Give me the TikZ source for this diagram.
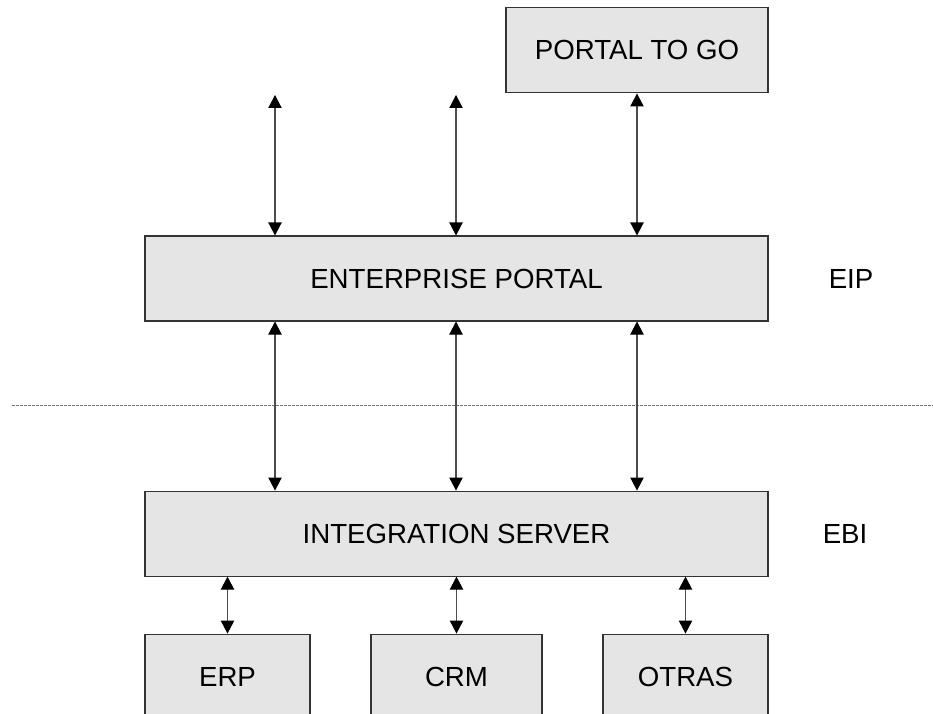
\documentclass[tikz,border=0pt]{standalone}
\usepackage{fontspec}
\setmainfont{Liberation Sans}
\usetikzlibrary{arrows.meta, positioning}

\begin{document}
\begin{tikzpicture}[
    every node/.style={font=\fontsize{23.6}{28}\selectfont},
    layerbox/.style={
        rectangle,
        minimum height=2.55cm,
        inner sep=0pt,
        text centered,
        fill=black!10,
        draw=black!80,
        line width=0.9pt
    },
    label/.style={
        inner sep=0pt
    },
    link/.style={
        draw=black!70,
        line width=0.9pt,
        {Triangle[width=4mm,length=3.9mm,color=black]}-{Triangle[width=4mm,length=3.9mm,color=black]}
    }
]

\clip (0,0) rectangle (27.99,-21.42);

% --- portal layer ---
\node (ep) [layerbox, minimum width=18.69cm] at (13.695,-8.355) {ENTERPRISE PORTAL};
\node (ptg) [layerbox, minimum width=7.86cm, above=4.26cm of ep.north east, anchor=south east] {PORTAL TO GO};
\node (eip) [label, right=1.8cm of ep] {EIP};

% --- integration layer ---
\node (is) [layerbox, minimum width=18.69cm, below=5.07cm of ep] {INTEGRATION SERVER};
\node (ebi) [label, right=1.62cm of is] {EBI};

% --- back-end systems ---
\node (erp) [layerbox, minimum width=4.95cm, below=1.71cm of is.south west, anchor=north west] {ERP};
\node (crm) [layerbox, minimum width=5.13cm, below=1.71cm of is] {CRM};
\node (otras) [layerbox, minimum width=4.95cm, below=1.71cm of is.south east, anchor=north east] {OTRAS};

% --- separator ---
\draw [black!55, line width=0.6pt, dash pattern=on 0.09cm off 0.03cm] (0.36,-12.15) -- (27.99,-12.15);

% --- free ends ---
\coordinate (u1) at (8.25,-2.85);
\coordinate (u2) at (13.68,-2.85);

% --- arrows ---
\draw [link] (u1) -- (u1 |- ep.north);
\draw [link] (u2) -- (u2 |- ep.north);
\draw [link] (ptg.south) -- (ptg.south |- ep.north);
\draw [link] (u1 |- ep.south) -- (u1 |- is.north);
\draw [link] (u2 |- ep.south) -- (u2 |- is.north);
\draw [link] (ptg.south |- ep.south) -- (ptg.south |- is.north);
\draw [link] (erp.north |- is.south) -- (erp.north);
\draw [link] (crm.north |- is.south) -- (crm.north);
\draw [link] (otras.north |- is.south) -- (otras.north);

\end{tikzpicture}
\end{document}
